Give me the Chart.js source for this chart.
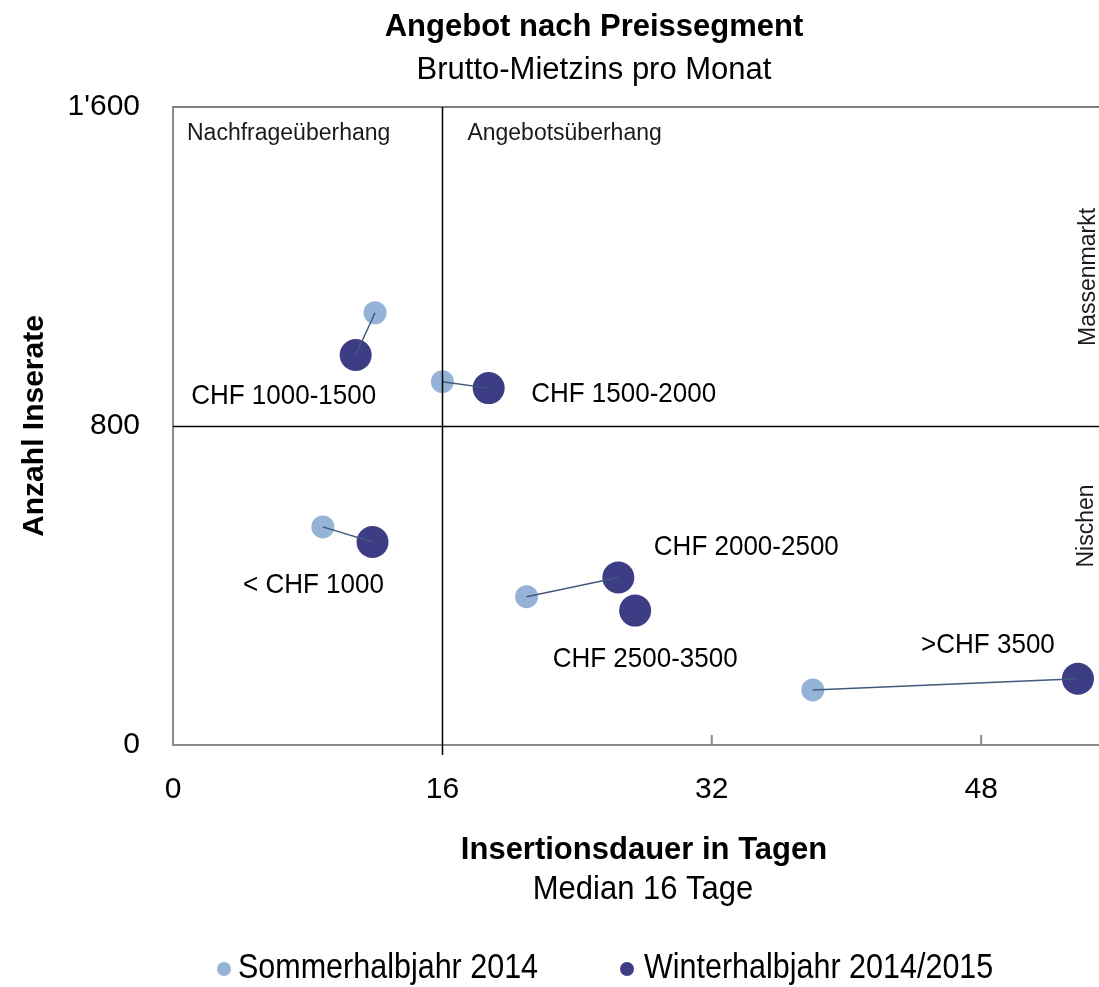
<!DOCTYPE html>
<html>
<head>
<meta charset="utf-8">
<script src="https://cdn.jsdelivr.net/npm/chart.js@4.4.1/dist/chart.umd.min.js"></script>
<style>
	html, body { margin: 0; padding: 0; background: #fff; }
</style>
</head>
<body>
<canvas id="segment_chart" width="1099" height="987"></canvas>
<script>
// values
const segments = ['< CHF 1000', 'CHF 1000-1500', 'CHF 1500-2000', 'CHF 2000-2500', 'CHF 2500-3500', '>CHF 3500'];
const summer_days = [8.9, 12.0, 16.0, 21.0, null, 38.0];
const summer_ads = [547, 1084, 911, 372, null, 138];
const winter_days = [11.85, 10.85, 18.75, 26.45, 27.45, 53.75];
const winter_ads = [509, 978, 895, 420, 337, 166];
const x_ticks = [0, 16, 32, 48];
const y_ticks = [0, 800, 1600];
const median_days = 16;
const split_ads = 800;

// label placement relative to the winter point (px)
const label_offsets = [[-59, 43], [-72, 41], [135, 6], [128, -30], [10, 49], [-90, -34]];

const FONT = "'Liberation Sans', Arial, sans-serif";
const LIGHT = '#95b3d7';
const DARK = '#3d3d85';

function buildPoints(xs, ys){
	var pts = [];
	for (let i = 0; i < xs.length; i++) {
		if (xs[i] !== null) pts.push({x: xs[i], y: ys[i]});
	}
	return pts;
}

var datasets = [];
// connectors summer -> winter, on top of the dots
for (let i = 0; i < segments.length; i++) {
	if (summer_days[i] === null) continue;
	datasets.push({
		type: 'line',
		label: 'link',
		data: [{x: summer_days[i], y: summer_ads[i]}, {x: winter_days[i], y: winter_ads[i]}],
		borderColor: '#41597a',
		borderWidth: 1.5,
		pointRadius: 0,
		fill: false,
		order: 0
	});
}
datasets.push({
	label: 'Sommerhalbjahr 2014',
	data: buildPoints(summer_days, summer_ads),
	backgroundColor: LIGHT,
	borderWidth: 0,
	pointRadius: 11.5,
	order: 2
});
datasets.push({
	label: 'Winterhalbjahr 2014/2015',
	data: buildPoints(winter_days, winter_ads),
	backgroundColor: DARK,
	borderWidth: 0,
	pointRadius: 16,
	order: 1
});

function text(ctx, str, x, y, size, weight, align, color, stretch){
	ctx.save();
	ctx.font = (weight || 'normal') + ' ' + size + 'px ' + FONT;
	ctx.textAlign = align || 'center';
	ctx.textBaseline = 'middle';
	ctx.fillStyle = color || '#000';
	ctx.translate(x, y);
	ctx.scale(1, stretch || 1);
	ctx.fillText(str, 0, 0);
	ctx.restore();
}

const decorations = {
	id: 'decorations',
	afterDatasetsDraw(chart){
		const ctx = chart.ctx;
		const area = chart.chartArea;
		const xs = chart.scales.x, ys = chart.scales.y;
		ctx.save();
		// top frame line
		ctx.strokeStyle = '#7f7f7f';
		ctx.lineWidth = 2;
		ctx.beginPath();
		ctx.moveTo(area.left, area.top);
		ctx.lineTo(area.right, area.top);
		ctx.stroke();
		// median and split lines
		ctx.strokeStyle = '#000';
		ctx.lineWidth = 1.5;
		const mx = Math.round(xs.getPixelForValue(median_days)) + 0.5;
		const sy = Math.round(ys.getPixelForValue(split_ads)) + 0.5;
		ctx.beginPath();
		ctx.moveTo(mx, area.top);
		ctx.lineTo(mx, area.bottom + 10);
		ctx.moveTo(area.left, sy);
		ctx.lineTo(area.right, sy);
		ctx.stroke();
		// small inner ticks
		ctx.strokeStyle = '#8c8c8c';
		ctx.lineWidth = 2;
		ctx.beginPath();
		x_ticks.forEach(function(v){
			if (v === 0 || v === median_days) return;
			const px = xs.getPixelForValue(v);
			ctx.moveTo(px, area.bottom);
			ctx.lineTo(px, area.bottom - 10);
		});
		ctx.stroke();
		ctx.restore();
	},
	afterDraw(chart){
		const ctx = chart.ctx;
		const xs = chart.scales.x, ys = chart.scales.y;
		// titles
		text(ctx, 'Angebot nach Preissegment', 594, 27, 31, 'bold');
		text(ctx, 'Brutto-Mietzins pro Monat', 594, 70, 31);
		text(ctx, 'Insertionsdauer in Tagen', 644, 850, 31, 'bold');
		text(ctx, 'Median 16 Tage', 643, 890, 31, 'normal', 'center', '#000', 1.05);

		// quadrant notes
		text(ctx, 'Nachfrageüberhang', 187, 133, 23, 'normal', 'left', '#1a1a1a', 1.05);
		text(ctx, 'Angebotsüberhang', xs.getPixelForValue(median_days) + 25, 133, 23, 'normal', 'left', '#1a1a1a', 1.05);
		ctx.save();
		ctx.translate(1089, 277);
		ctx.rotate(-Math.PI / 2);
		text(ctx, 'Massenmarkt', 0, 0, 23, 'normal', 'center', '#1a1a1a');
		ctx.restore();
		ctx.save();
		ctx.translate(1087, 526);
		ctx.rotate(-Math.PI / 2);
		text(ctx, 'Nischen', 0, 0, 23, 'normal', 'center', '#1a1a1a');
		ctx.restore();

		// segment labels
		for (let i = 0; i < segments.length; i++) {
			const px = xs.getPixelForValue(winter_days[i]);
			const py = ys.getPixelForValue(winter_ads[i]);
			text(ctx, segments[i], px + label_offsets[i][0], py + label_offsets[i][1], 26, 'normal', 'center', '#000', 1.08);
		}

		// legend
		const legend = [['Sommerhalbjahr 2014', LIGHT, 224, 238], ['Winterhalbjahr 2014/2015', DARK, 627, 644]];
		legend.forEach(function(item){
			ctx.fillStyle = item[1];
			ctx.beginPath();
			ctx.arc(item[2], 969, 7, 0, Math.PI * 2);
			ctx.fill();
			text(ctx, item[0], item[3], 969, 30.5, 'normal', 'left', '#000', 1.12);
		});
	}
};

const ctx = document.getElementById('segment_chart').getContext('2d');
const segment_chart = new Chart(ctx, {
	type: 'scatter',
	data: {datasets: datasets},
	options: {
		responsive: false,
		animation: false,
		devicePixelRatio: 1,
		layout: {autoPadding: false, padding: {top: 107, right: 0, bottom: 117, left: 0}},
		plugins: {
			legend: {display: false},
			tooltip: {enabled: false}
		},
		scales: {
			x: {
				type: 'linear',
				min: 0,
				max: 55,
				afterBuildTicks: function(scale){
					scale.ticks = x_ticks.map(function(v){ return {value: v}; });
				},
				afterFit: function(scale){ scale.height = 125; },
				grid: {display: true, drawOnChartArea: false, drawTicks: false},
				border: {display: true, color: '#8c8c8c', width: 2},
				ticks: {font: {family: FONT, size: 30}, color: '#000', padding: 27, maxRotation: 0}
			},
			y: {
				min: 0,
				max: 1600,
				afterBuildTicks: function(scale){
					scale.ticks = y_ticks.map(function(v){ return {value: v}; });
				},
				afterFit: function(scale){ scale.width = 173; },
				grid: {display: true, drawOnChartArea: false, drawTicks: false},
				border: {display: true, color: '#8c8c8c', width: 2},
				ticks: {
					font: {family: FONT, size: 30},
					color: '#000',
					padding: 33,
					callback: function(value){
						return value >= 1000 ? Math.floor(value / 1000) + "'" + String(value % 1000).padStart(3, '0') : String(value);
					}
				},
				title: {
					display: true,
					text: 'Anzahl Inserate',
					color: '#000',
					font: {family: FONT, size: 30, weight: 'bold'},
					padding: {top: 17, bottom: 0}
				}
			}
		}
	},
	plugins: [decorations]
});
</script>
</body>
</html>
